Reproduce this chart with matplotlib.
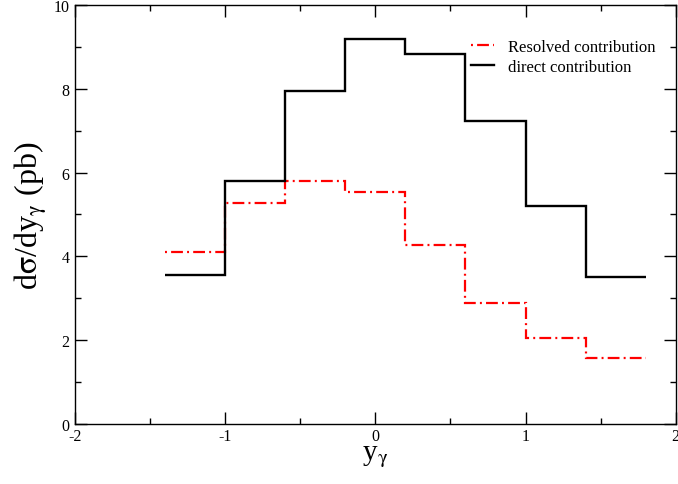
import matplotlib
matplotlib.use("Agg")
import matplotlib.pyplot as plt
from matplotlib.ticker import MultipleLocator

plt.rcParams['font.family'] = ['Liberation Serif', 'DejaVu Serif']
plt.rcParams['mathtext.fontset'] = 'stix'
plt.rcParams['axes.unicode_minus'] = False
plt.rcParams['lines.scale_dashes'] = False

bin_edges = [-1.4, -1.0, -0.6, -0.2, 0.2, 0.6, 1.0, 1.4, 1.8]
resolved = [4.10, 5.28, 5.79, 5.54, 4.28, 2.89, 2.05, 1.57]
direct = [3.55, 5.81, 7.95, 9.18, 8.83, 7.22, 5.21, 3.52]

fig = plt.figure(figsize=(6.78, 4.85), dpi=100)
ax = fig.add_axes([0.1106, 0.1237, 0.886, 0.864])

ax.stairs(resolved, bin_edges, baseline=None, color='red', linewidth=1.6,
          linestyle=(11.5, (8.5, 3.0, 1.4, 3.0)), label='Resolved contribution')
ax.stairs(direct, bin_edges, baseline=None, color='black', linewidth=1.7,
          label='direct contribution')

ax.set_xlim(-2, 2)
ax.set_ylim(0, 10)
ax.xaxis.set_major_locator(MultipleLocator(1))
ax.xaxis.set_minor_locator(MultipleLocator(0.5))
ax.yaxis.set_major_locator(MultipleLocator(2))
ax.yaxis.set_minor_locator(MultipleLocator(1))
ax.tick_params(which='both', direction='in', top=True, right=True, labelsize=11.5, width=1.0)
ax.tick_params(which='major', length=8.5)
ax.tick_params(which='minor', length=4.5)
ax.tick_params(axis='x', pad=3)
ax.tick_params(axis='y', pad=4)
for s in ax.spines.values():
    s.set_linewidth(1.0)

ax.set_xlabel(r'y$_\mathrm{\gamma}$', fontsize=21, labelpad=-1)
ax.set_ylabel(r'd$\mathrm{\sigma}$/dy$_\mathrm{\gamma}$ (pb)', fontsize=23, labelpad=3)

ax.legend(loc='upper left', bbox_to_anchor=(0.66, 0.918), frameon=False,
          fontsize=12, handlelength=1.35, handletextpad=0.85, labelspacing=0.2,
          borderaxespad=0, borderpad=0)

fig.savefig('out.png', dpi=100)
